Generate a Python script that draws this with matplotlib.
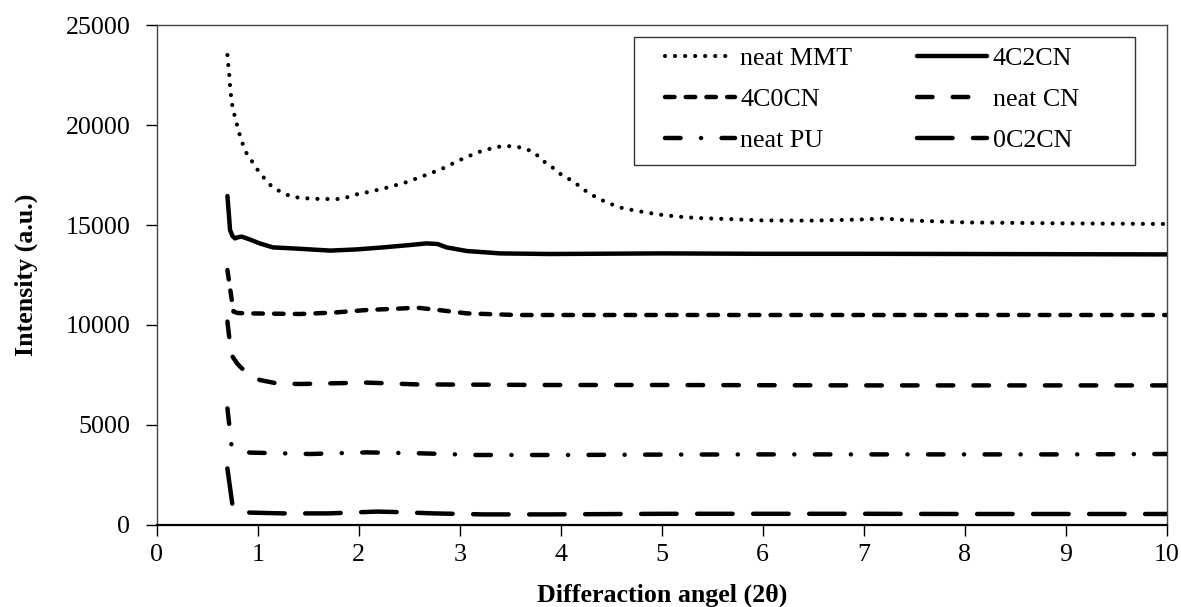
import matplotlib
matplotlib.use("Agg")
import matplotlib.pyplot as plt
from matplotlib.patches import Rectangle

plt.rcParams['font.family'] = ['Liberation Serif', 'DejaVu Serif']

# ---- data ----
x_mmt = [0.70, 0.709, 0.719, 0.726, 0.736, 0.749, 0.772, 0.798, 0.825, 0.857, 0.897, 0.956, 1.01, 1.075, 1.14,
         1.23, 1.32, 1.42, 1.62, 1.82, 1.91, 2.01, 2.10, 2.28, 2.46, 2.64, 2.82, 2.99, 3.17, 3.36, 3.46, 3.56,
         3.66, 3.75, 3.81, 3.90, 3.97, 4.05, 4.14, 4.22, 4.30, 4.39, 4.58, 4.76, 4.96, 5.16, 5.35, 5.65, 6.0,
         6.5, 7.0, 7.2, 7.5, 8.0, 9.0, 10.0]
y_mmt = [23500, 22980, 22470, 21950, 21450, 20950, 20450, 19950, 19450, 18970, 18500, 18100, 17670, 17280, 16920,
         16650, 16450, 16350, 16300, 16300, 16420, 16580, 16650, 16870, 17120, 17450, 17800, 18220, 18620, 18900,
         18950, 18920, 18800, 18580, 18250, 17970, 17630, 17400, 17120, 16800, 16530, 16280, 15880, 15700, 15530,
         15420, 15350, 15300, 15230, 15220, 15280, 15320, 15220, 15130, 15080, 15050]

x_4c2 = [0.70, 0.715, 0.726, 0.75, 0.775, 0.80, 0.84, 0.92, 1.02, 1.15, 1.35, 1.72, 1.98, 2.24, 2.51, 2.67,
         2.78, 2.87, 3.07, 3.40, 3.89, 5.0, 6.0, 7.0, 8.0, 9.0, 10.0]
y_4c2 = [16450, 15500, 14750, 14450, 14330, 14380, 14420, 14280, 14080, 13880, 13830, 13720, 13780, 13880, 14000,
         14080, 14050, 13880, 13700, 13580, 13550, 13580, 13560, 13560, 13550, 13540, 13530]

x_4c0 = [0.70, 0.73, 0.76, 0.80, 0.92, 1.42, 1.75, 2.08, 2.44, 2.57, 2.84, 3.07, 3.56, 4.0, 5.0, 6.0, 7.0, 8.0,
         9.0, 10.0]
y_4c0 = [12750, 11700, 10670, 10600, 10580, 10550, 10620, 10750, 10830, 10870, 10720, 10580, 10500, 10500, 10500,
         10500, 10500, 10500, 10500, 10500]

x_cn = [0.70, 0.72, 0.74, 0.80, 0.86, 1.02, 1.19, 1.42, 2.08, 2.57, 3.89, 5.0, 6.0, 7.0, 8.0, 9.0, 10.0]
y_cn = [10170, 9300, 8500, 8050, 7750, 7250, 7080, 7050, 7120, 7030, 7000, 7000, 6990, 6980, 6980, 6980, 6980]

x_pu = [0.70, 0.72, 0.74, 0.80, 0.92, 1.52, 2.08, 2.64, 3.17, 4.0, 5.0, 6.0, 7.0, 8.0, 9.0, 10.0]
y_pu = [5830, 4920, 4000, 3750, 3620, 3550, 3630, 3580, 3500, 3500, 3520, 3530, 3530, 3530, 3530, 3550]

x_0c2 = [0.70, 0.725, 0.75, 0.80, 0.92, 1.25, 1.70, 2.18, 2.35, 2.74, 3.23, 3.9, 5.0, 6.0, 7.0, 8.0, 9.0, 10.0]
y_0c2 = [2830, 1900, 1000, 750, 620, 580, 580, 670, 650, 580, 530, 530, 560, 560, 560, 550, 550, 550]

labels = ['neat MMT', '4C0CN', 'neat PU', '4C2CN', 'neat CN', '0C2CN']
xticks = list(range(0, 11))
yticks = [0, 5000, 10000, 15000, 20000, 25000]

# ---- figure ----
fig = plt.figure(figsize=(11.81, 6.07), dpi=100)
ax = fig.add_axes([0.1327, 0.1351, 0.8552, 0.8237])

lw = 3.2
common = dict(color='black', solid_capstyle='round', dash_capstyle='round')
l_mmt, = ax.plot(x_mmt, y_mmt, lw=3.0, dashes=(0.01, 2.4), **common)
l_4c2, = ax.plot(x_4c2, y_4c2, lw=lw, **common)
l_4c0, = ax.plot(x_4c0, y_4c0, lw=lw, dashes=(2.15, 2.51), **common)
l_cn, = ax.plot(x_cn, y_cn, lw=lw, dashes=(3.5, 4.54), **common)
l_pu, = ax.plot(x_pu, y_pu, lw=lw, dashes=(3.5, 4.6, 0.03, 4.6), **common)
l_0c2, = ax.plot(x_0c2, y_0c2, lw=lw, dashes=(8.0, 4.6), **common)

ax.set_xlim(0, 10)
ax.set_ylim(0, 25000)
ax.set_xticks(xticks)
ax.set_yticks(yticks)
ax.tick_params(axis='both', direction='out', length=8, width=1, labelsize=18.7, colors='black')
ax.tick_params(axis='y', pad=11)
ax.tick_params(axis='x', pad=6)
ax.tick_params(top=False, right=False)

for s in ['left', 'top', 'right']:
    ax.spines[s].set_color('#444444')
    ax.spines[s].set_linewidth(1.0)
ax.spines['bottom'].set_color('black')
ax.spines['bottom'].set_linewidth(1.6)

ax.set_xlabel('Differaction angel (2θ)', fontsize=18.7, fontweight='bold', labelpad=12)
ax.set_ylabel('Intensity (a.u.)', fontsize=18.7, fontweight='bold', labelpad=20)

# legend box (frame drawn separately to match the reference's fixed-width box)
ax.add_patch(Rectangle((0.4726, 0.72), 0.496, 0.256, transform=ax.transAxes,
                       facecolor='white', edgecolor='#333333', lw=1.0, zorder=4))
leg = ax.legend([l_mmt, l_4c0, l_pu, l_4c2, l_cn, l_0c2], labels, ncol=2,
                loc='upper left', bbox_to_anchor=(0.5033, 0.956), borderaxespad=0,
                fontsize=18.7, frameon=False,
                handlelength=2.7, handletextpad=0.2, columnspacing=2.5, borderpad=0,
                labelspacing=0.68)
leg.set_zorder(5)

fig.savefig('out.png', dpi=100)
